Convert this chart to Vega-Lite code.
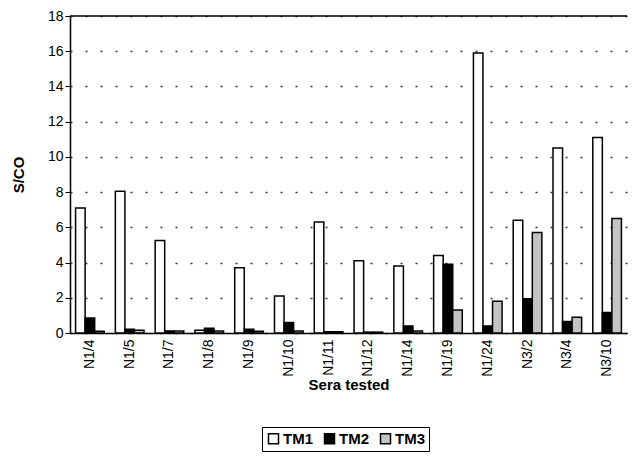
{
  "$schema": "https://vega.github.io/schema/vega-lite/v6.json",
  "width": 557,
  "height": 317,
  "autosize": {"type": "none"},
  "padding": {"left": 70, "top": 16, "right": 6, "bottom": 131},
  "background": "white",
  "config": {
    "font": "Liberation Sans",
    "view": {"stroke": null},
    "axis": {"labelColor": "black", "titleColor": "black", "domainColor": "black", "tickColor": "black"}
  },
  "data": {
    "values": [
      {"sera": "N1/4", "test": "TM1", "value": 7.1},
      {"sera": "N1/4", "test": "TM2", "value": 0.85},
      {"sera": "N1/4", "test": "TM3", "value": 0.1},
      {"sera": "N1/5", "test": "TM1", "value": 8.05},
      {"sera": "N1/5", "test": "TM2", "value": 0.22},
      {"sera": "N1/5", "test": "TM3", "value": 0.15},
      {"sera": "N1/7", "test": "TM1", "value": 5.25},
      {"sera": "N1/7", "test": "TM2", "value": 0.12},
      {"sera": "N1/7", "test": "TM3", "value": 0.12},
      {"sera": "N1/8", "test": "TM1", "value": 0.15},
      {"sera": "N1/8", "test": "TM2", "value": 0.27},
      {"sera": "N1/8", "test": "TM3", "value": 0.12},
      {"sera": "N1/9", "test": "TM1", "value": 3.7},
      {"sera": "N1/9", "test": "TM2", "value": 0.22},
      {"sera": "N1/9", "test": "TM3", "value": 0.1},
      {"sera": "N1/10", "test": "TM1", "value": 2.1},
      {"sera": "N1/10", "test": "TM2", "value": 0.6},
      {"sera": "N1/10", "test": "TM3", "value": 0.12},
      {"sera": "N1/11", "test": "TM1", "value": 6.3},
      {"sera": "N1/11", "test": "TM2", "value": 0.07},
      {"sera": "N1/11", "test": "TM3", "value": 0.07},
      {"sera": "N1/12", "test": "TM1", "value": 4.1},
      {"sera": "N1/12", "test": "TM2", "value": 0.05},
      {"sera": "N1/12", "test": "TM3", "value": 0.05},
      {"sera": "N1/14", "test": "TM1", "value": 3.8},
      {"sera": "N1/14", "test": "TM2", "value": 0.4},
      {"sera": "N1/14", "test": "TM3", "value": 0.12},
      {"sera": "N1/19", "test": "TM1", "value": 4.4},
      {"sera": "N1/19", "test": "TM2", "value": 3.9},
      {"sera": "N1/19", "test": "TM3", "value": 1.3},
      {"sera": "N1/24", "test": "TM1", "value": 15.9},
      {"sera": "N1/24", "test": "TM2", "value": 0.4},
      {"sera": "N1/24", "test": "TM3", "value": 1.8},
      {"sera": "N3/2", "test": "TM1", "value": 6.4},
      {"sera": "N3/2", "test": "TM2", "value": 1.95},
      {"sera": "N3/2", "test": "TM3", "value": 5.7},
      {"sera": "N3/4", "test": "TM1", "value": 10.5},
      {"sera": "N3/4", "test": "TM2", "value": 0.65},
      {"sera": "N3/4", "test": "TM3", "value": 0.9},
      {"sera": "N3/10", "test": "TM1", "value": 11.1},
      {"sera": "N3/10", "test": "TM2", "value": 1.17},
      {"sera": "N3/10", "test": "TM3", "value": 6.5}
    ]
  },
  "layer": [
    {
      "mark": {"type": "bar", "stroke": "black", "strokeWidth": 1.5},
      "encoding": {
        "x": {
          "field": "sera", "type": "nominal", "sort": null,
          "scale": {"paddingInner": 0.28, "paddingOuter": 0.14},
          "axis": {"title": "Sera tested", "labelAngle": -90, "labelFontSize": 14, "labelPadding": 6, "ticks": false,
                   "titleFontSize": 15, "titleFontWeight": "bold", "titlePadding": 1, "domainWidth": 1.5}
        },
        "xOffset": {"field": "test", "type": "nominal", "scale": {"paddingInner": 0}},
        "y": {
          "field": "value", "type": "quantitative",
          "scale": {"domain": [0, 18], "nice": false},
          "axis": {"title": "S/CO", "values": [0, 2, 4, 6, 8, 10, 12, 14, 16, 18], "labelFontSize": 14,
                   "labelOverlap": false, "labelBound": false, "labelFlush": false,
                   "titleFontSize": 15, "titleFontWeight": "bold", "titlePadding": 21,
                   "gridDash": [2, 13], "gridColor": "#333333", "gridWidth": 1.5,
                   "tickSize": 5, "domainWidth": 1.5}
        },
        "fill": {
          "field": "test", "type": "nominal",
          "scale": {"domain": ["TM1", "TM2", "TM3"], "range": ["white", "black", "#c4c4c4"]},
          "legend": {"title": null, "orient": "none", "legendX": 192, "legendY": 411, "direction": "horizontal", "symbolType": "square",
                     "symbolStrokeColor": "black", "symbolStrokeWidth": 1.5, "symbolSize": 100,
                     "labelFontSize": 15, "labelFontWeight": "bold", "labelColor": "black",
                     "strokeColor": "black", "padding": 4, "columnPadding": 8, "labelOffset": 2}
        }
      }
    },
    {
      "data": {"values": [{"top": 18}]},
      "mark": {"type": "rule", "color": "black", "strokeWidth": 1.5},
      "encoding": {"y": {"field": "top", "type": "quantitative",
          "axis": {"title": "S/CO", "values": [0, 2, 4, 6, 8, 10, 12, 14, 16, 18], "labelFontSize": 14,
                   "labelOverlap": false, "labelBound": false, "labelFlush": false,
                   "titleFontSize": 15, "titleFontWeight": "bold", "titlePadding": 21,
                   "gridDash": [2, 13], "gridColor": "#333333", "gridWidth": 1.5,
                   "tickSize": 5, "domainWidth": 1.5}}}
    }
  ]
}
